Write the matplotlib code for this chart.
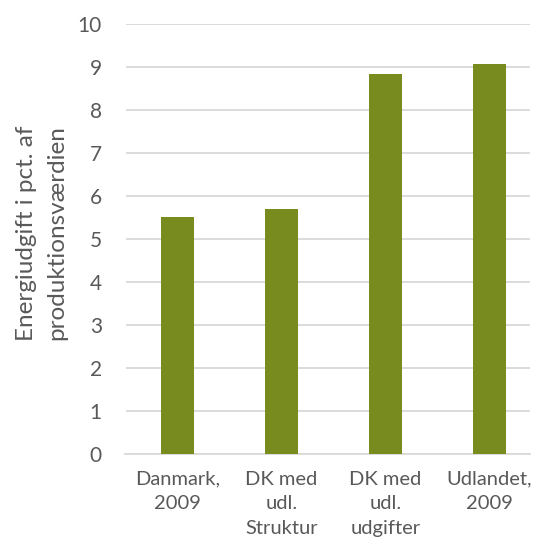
import matplotlib
matplotlib.use("Agg")
import matplotlib.pyplot as plt

categories = ["Danmark,\n2009", "DK med\nudl.\nStruktur", "DK med\nudl.\nudgifter", "Udlandet,\n2009"]
values = [5.52, 5.70, 8.83, 9.08]
yticks = list(range(0, 11))
ylabel = "Energiudgift i pct. af\nproduktionsværdien"

BAR = "#778B1F"
TXT = "#595959"
GRID = "#D9D9D9"

plt.rcParams["font.family"] = ["Lato", "DejaVu Sans"]

fig = plt.figure(figsize=(5.34, 5.42), dpi=100)
ax = fig.add_axes([125.5 / 534, 1 - 454 / 542, (530 - 125.5) / 534, (454 - 24) / 542])

x = list(range(len(categories)))
ax.bar(x, values, width=0.32, color=BAR, zorder=3)

ax.set_ylim(0, 10)
ax.set_xlim(-0.5, 3.39)
ax.set_yticks(yticks)
ax.set_xticks(x)
ax.set_xticklabels(categories)
ax.yaxis.grid(True, color=GRID, linewidth=1.3, zorder=0)
ax.set_axisbelow(True)

for s in ["top", "right", "left"]:
    ax.spines[s].set_visible(False)
ax.spines["bottom"].set_color(GRID)
ax.spines["bottom"].set_linewidth(1.3)

ax.tick_params(axis="y", length=0, pad=17, labelsize=15, labelcolor=TXT)
ax.tick_params(axis="x", length=0, pad=12, labelsize=14.5, labelcolor=TXT)
for lbl in ax.get_xticklabels():
    lbl.set_linespacing(1.55)

fig.text(42 / 534, 1 - 233 / 542, ylabel, rotation=90, ha="center", va="center",
         multialignment="center", fontsize=17.5, color=TXT, linespacing=1.55)

fig.savefig("out.png", dpi=100)
